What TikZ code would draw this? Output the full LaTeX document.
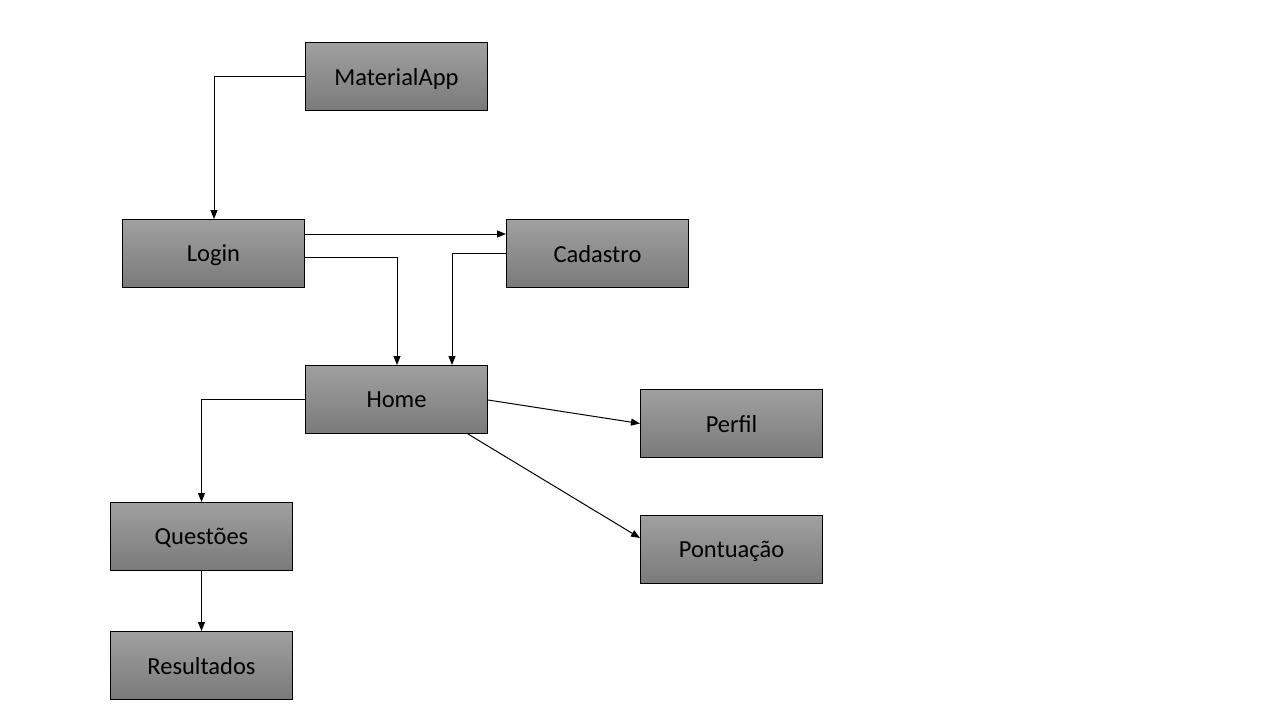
\documentclass[tikz,border=0pt]{standalone}
\usepackage{fontspec}
\setmainfont{Carlito}
\usetikzlibrary{arrows.meta}
\begin{document}
\begin{tikzpicture}[x=1pt,y=-1pt,
  box/.style={draw=black,line width=1pt,minimum width=182pt,minimum height=68pt,inner sep=0pt,
    anchor=north west,text depth=0pt,
    font=\fontsize{24.5}{28}\selectfont, top color={rgb,255:red,160;green,160;blue,160}, bottom color={rgb,255:red,122;green,122;blue,122}},
  conn/.style={line width=1pt,-{Triangle[length=9pt,width=7pt]}}]
\useasboundingbox (0,0) rectangle (1280,720);
\node[box] (ma) at (305,42) {MaterialApp};
\node[box] (lo) at (122,219) {Login};
\node[box] (ca) at (506,219) {Cadastro};
\node[box] (ho) at (305,365) {Home};
\node[box] (pe) at (640,389) {Perfil};
\node[box] (po) at (640,515) {Pontuação};
\node[box] (qu) at (110,502) {Questões};
\node[box] (re) at (110,631) {Resultados};
\draw[conn] (ma.west) -| ([xshift=92pt]lo.north west);
\draw[conn] ([yshift=-15pt]lo.north east) -- ([yshift=-15pt]ca.north west);
\draw[conn] ([yshift=-38pt]lo.north east) -| ([xshift=92pt]ho.north west);
\draw[conn] (ca.west) -| ([xshift=147pt]ho.north west);
\draw[conn] ([yshift=-35pt]ho.north east) -- (pe.west);
\draw[conn] ([xshift=-20pt]ho.south east) -- ([yshift=-23pt]po.north west);
\draw[conn] (ho.west) -| (qu.north);
\draw[conn] (qu.south) -- (re.north);
\end{tikzpicture}
\end{document}
